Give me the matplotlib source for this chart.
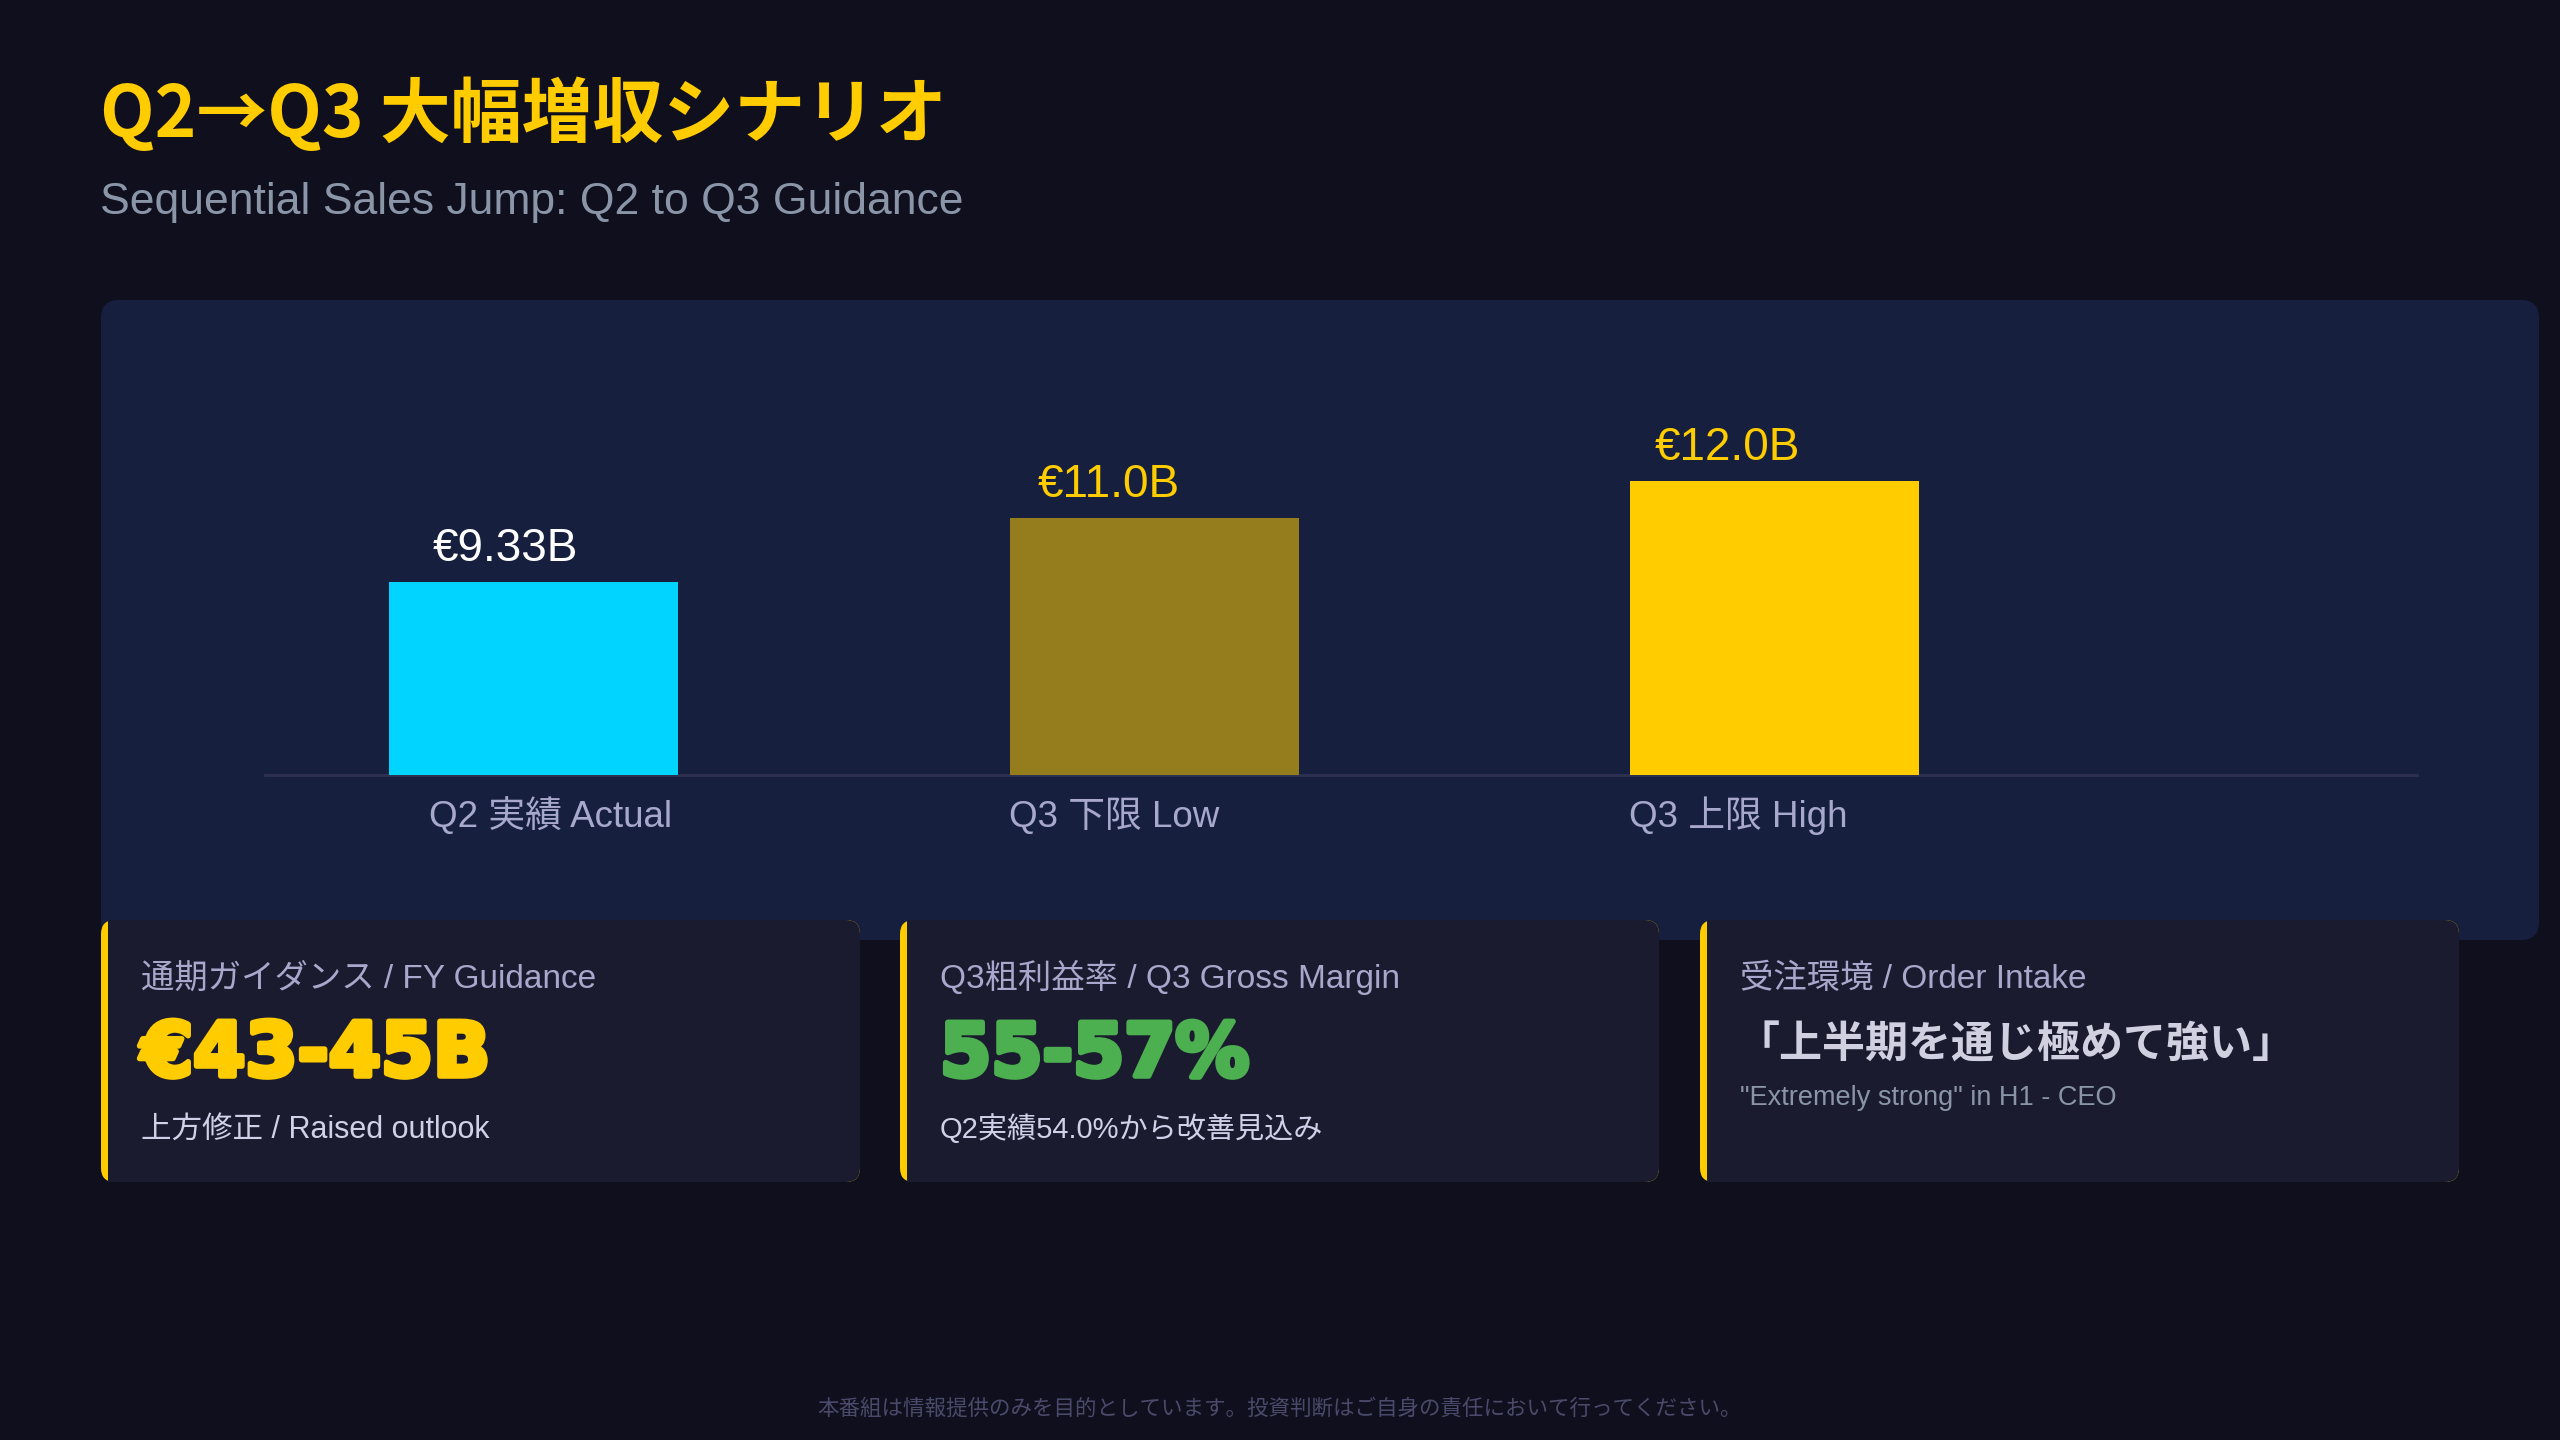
import matplotlib
matplotlib.use("Agg")
import matplotlib.pyplot as plt
from matplotlib.patches import FancyBboxPatch, Rectangle
import matplotlib.patheffects as pe

MIX = ['Liberation Sans', 'Noto Sans CJK JP', 'DejaVu Sans']
CJK = ['Noto Sans CJK JP', 'DejaVu Sans']
plt.rcParams['font.family'] = MIX

# ---------------- data ----------------
categories = ["Q2 実績 Actual", "Q3 下限 Low", "Q3 上限 High"]
sales_b = [9.33, 11.0, 12.0]
value_labels = ["€9.33B", "€11.0B", "€12.0B"]

title = "Q2→Q3 大幅増収シナリオ"
subtitle = "Sequential Sales Jump: Q2 to Q3 Guidance"

card_labels = ["通期ガイダンス / FY Guidance", "Q3粗利益率 / Q3 Gross Margin", "受注環境 / Order Intake"]
card_values = ["€43-45B", "55-57%", "「上半期を通じ極めて強い」"]
card_notes = ["上方修正 / Raised outlook", "Q2実績54.0%から改善見込み", "\"Extremely strong\" in H1 - CEO"]
footer = "本番組は情報提供のみを目的としています。投資判断はご自身の責任において行ってください。"

# ---------------- style ----------------
BG = "#0f0f1e"
PANEL = "#16203e"
CARD = "#1a1b2e"
YELLOW = "#ffcc00"
bar_colors = ["#00d4ff", "#957d1d", "#ffcc00"]
value_colors = ["#ffffff", "#ffcc00", "#ffcc00"]
W, H = 2560, 1440

fig = plt.figure(figsize=(W / 100, H / 100), dpi=100, facecolor=BG)
bg = fig.add_axes([0, 0, 1, 1])
bg.set_xlim(0, W)
bg.set_ylim(H, 0)
bg.axis("off")
bg.set_facecolor(BG)

# title & subtitle
bg.text(100, 137, title, fontsize=51, fontweight="bold", color=YELLOW, va="baseline", ha="left", family=CJK)
bg.text(100, 214, subtitle, fontsize=32, color="#8a96a8", va="baseline", ha="left")

# chart panel
bg.add_patch(FancyBboxPatch((101, 300), 2438, 640, boxstyle="round,pad=0,rounding_size=18",
                            fc=PANEL, ec="none", zorder=1))

# cards
card_x = [101, 900, 1700]
card_w = 759
value_styles = [dict(color=YELLOW, fontsize=54, fontweight="bold", family=["DejaVu Sans"]),
                dict(color="#4caf50", fontsize=53, fontweight="bold", family=["DejaVu Sans"]),
                dict(color="#d0d0e0", fontsize=31, fontweight="bold", family=CJK)]
value_base = [1076, 1076, 1058]
note_base = [1138, 1138, 1105]
note_styles = [dict(color="#d0d0e8", fontsize=22), dict(color="#d0d0e8", fontsize=21),
               dict(color="#8a96a8", fontsize=19.5)]
for i, x0 in enumerate(card_x):
    bg.add_patch(FancyBboxPatch((x0, 920), card_w, 262, boxstyle="round,pad=0,rounding_size=14",
                                fc=YELLOW, ec="none", zorder=3))
    bg.add_patch(FancyBboxPatch((x0 + 7, 920), card_w - 7, 262, boxstyle="round,pad=0,rounding_size=14",
                                fc=CARD, ec="none", zorder=4))
    bg.add_patch(Rectangle((x0 + 7, 920), 30, 262, fc=CARD, ec="none", zorder=4))
    tx = x0 + 40
    bg.text(tx, 988, card_labels[i], fontsize=24, color="#a8a8cc", va="baseline", zorder=5)
    st = value_styles[i]
    t = bg.text(tx if i < 2 else tx - 4, value_base[i], card_values[i], va="baseline", zorder=5, **st)
    if i < 2:
        t.set_path_effects([pe.withStroke(linewidth=4, foreground=st["color"])])
    bg.text(tx, note_base[i], card_notes[i], va="baseline", zorder=5, **note_styles[i])

# footer
bg.text(W / 2, 1415, footer, fontsize=15.5, color="#4a4a6a", ha="center", va="baseline")

# ---------------- bar chart ----------------
ax_left, ax_right, ax_bottom, ax_top = 265, 2417, 775, 350
ax = fig.add_axes([ax_left / W, 1 - ax_bottom / H, (ax_right - ax_left) / W, (ax_bottom - ax_top) / H])
ax.set_facecolor("none")
ax.set_zorder(2)
xs = list(range(len(categories)))
ax.bar(xs, sales_b, width=0.466, color=bar_colors, edgecolor="none", zorder=3)
ymin = 4.24
ax.set_ylim(ymin, ymin + (ax_bottom - ax_top) / 37.95)
ax.set_xlim(-0.433, 3.035)
for s in ["top", "right", "left"]:
    ax.spines[s].set_visible(False)
ax.spines["bottom"].set_color("#2e3050")
ax.spines["bottom"].set_linewidth(2)
ax.set_yticks([])
ax.set_xticks([])

# value labels (offset in px converted to data units)
px_per_unit_x = (ax_right - ax_left) / (3.035 + 0.433)
px_per_unit_y = 37.95
value_dx = [-28, -46, -47]
cat_dx = [17, -40, -37]
for i, (x, v) in enumerate(zip(xs, sales_b)):
    ax.text(x + value_dx[i] / px_per_unit_x, v + 21 / px_per_unit_y, value_labels[i],
            ha="center", va="baseline", fontsize=33, color=value_colors[i], zorder=4)
    ax.text(x + cat_dx[i] / px_per_unit_x, ymin - 52 / px_per_unit_y, categories[i],
            ha="center", va="baseline", fontsize=26.5, color="#a8a8cc", zorder=4, clip_on=False)

fig.savefig("out.png", dpi=100, facecolor=BG)
